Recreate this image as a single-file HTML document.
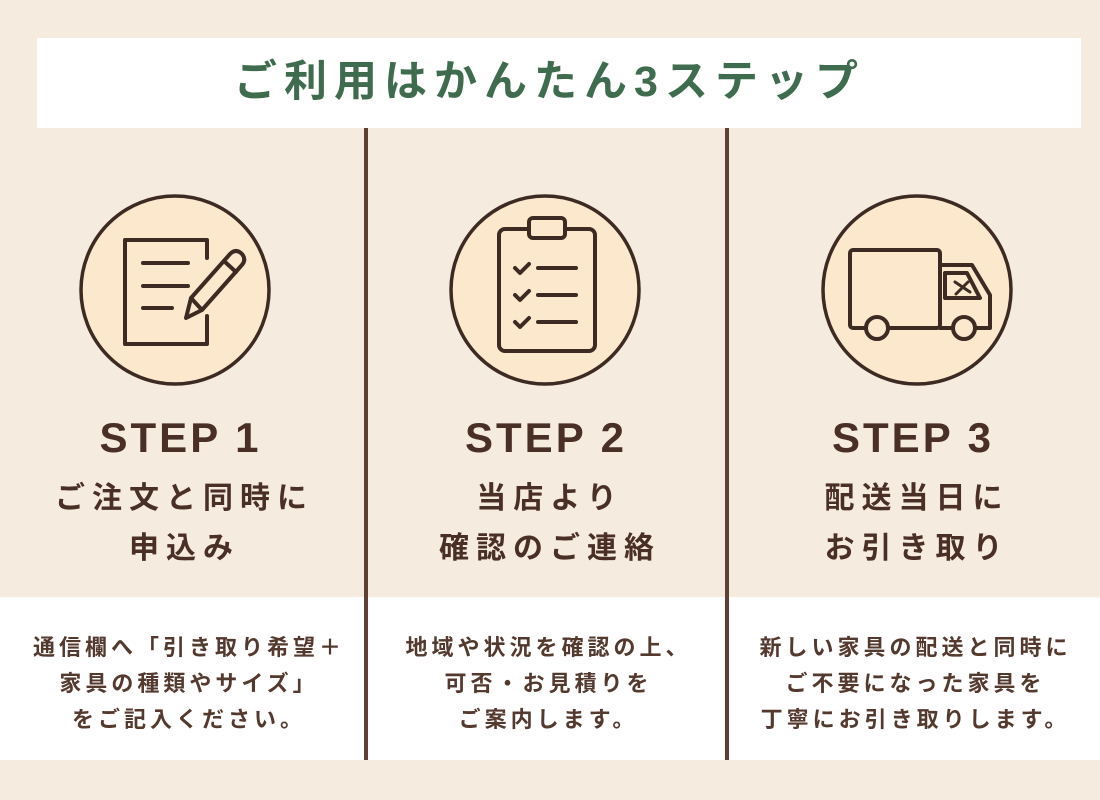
<!DOCTYPE html>
<html><head><meta charset="utf-8"><style>
body{margin:0;width:1100px;height:800px;background:#f5ebdf;position:relative;overflow:hidden;font-family:"Liberation Sans","Noto Sans CJK JP",sans-serif;color:#4a2f27}
.t{position:absolute;text-align:center;white-space:nowrap;font-weight:bold}
</style></head><body>
<div style="position:absolute;left:37px;top:38px;width:1044px;height:90px;background:#fff"></div>
<div class="t" style="left:24px;width:1044px;top:56px;font-size:43px;line-height:52px;letter-spacing:7px;padding-left:7px;box-sizing:border-box;color:#3f6b4e">ご利用はかんたん3ステップ</div>
<div style="position:absolute;left:0;top:597px;width:1100px;height:163px;background:#fff"></div>
<div style="position:absolute;left:364px;top:128px;width:4px;height:632px;background:#5e4034"></div>
<div style="position:absolute;left:725px;top:128px;width:4px;height:632px;background:#5e4034"></div>
<svg width="1100" height="800" style="position:absolute;left:0;top:0" fill="none" stroke="#3d2a22" stroke-width="4" stroke-linecap="round" stroke-linejoin="round">
<circle cx="175" cy="290" r="94" fill="#fbe8cd" stroke-width="3.5"/>
<circle cx="545" cy="290" r="94" fill="#fbe8cd" stroke-width="3.5"/>
<circle cx="917" cy="290" r="94" fill="#fbe8cd" stroke-width="3.5"/>
<path d="M207 258 V240 H125 V344 H207 V316"/>
<path d="M143 263 H188 M143 286 H188 M143 308 H172"/>
<path d="M186 318 L191 298 L230 254 Q236 248 242 254 Q247 260 241 266 L202 310 Z M191 298 L202 310 M224 261 L236 272"/>
<rect x="499" y="229" width="96" height="122" rx="6"/>
<rect x="529" y="218" width="36" height="20" rx="4" fill="#fbe8cd"/>
<path d="M515 268 l5 5 l9 -9 M538 268 H576 M515 295 l5 5 l9 -9 M538 295 H576 M515 322 l5 5 l9 -9 M538 322 H576"/>
<rect x="850" y="250" width="90" height="78" rx="3"/>
<path d="M940 265 H972 L990 295 V328 H940"/>
<path d="M945 273 H967 L980 298 H945 Z"/>
<path d="M955 282 l15 10 M968 282 l-12 12" stroke-width="3"/>
<circle cx="877" cy="328" r="11" fill="#fbe8cd"/>
<circle cx="964" cy="328" r="11" fill="#fbe8cd"/>
</svg>
<div class="t" style="left:-4px;width:366px;top:412px;font-size:42px;line-height:52px;letter-spacing:3px;padding-left:3px;box-sizing:border-box">STEP 1</div>
<div class="t" style="left:364px;width:361px;top:412px;font-size:42px;line-height:52px;letter-spacing:3px;padding-left:3px;box-sizing:border-box">STEP 2</div>
<div class="t" style="left:725px;width:373px;top:412px;font-size:42px;line-height:52px;letter-spacing:3px;padding-left:3px;box-sizing:border-box">STEP 3</div>
<div class="t" style="left:-2px;width:366px;top:474px;font-size:30px;line-height:50px;letter-spacing:7px;padding-left:7px;box-sizing:border-box">ご注文と同時に<br>申込み</div>
<div class="t" style="left:366px;width:361px;top:474px;font-size:30px;line-height:50px;letter-spacing:7px;padding-left:7px;box-sizing:border-box">当店より<br>確認のご連絡</div>
<div class="t" style="left:727px;width:373px;top:474px;font-size:30px;line-height:50px;letter-spacing:7px;padding-left:7px;box-sizing:border-box">配送当日に<br>お引き取り</div>
<div class="t" style="left:4px;width:366px;top:630px;font-size:22px;line-height:36px;letter-spacing:4px;padding-left:4px;box-sizing:border-box;color:#54392f">通信欄へ「引き取り希望＋<br>家具の種類やサイズ」<br>をご記入ください。</div>
<div class="t" style="left:366px;width:361px;top:630px;font-size:22px;line-height:36px;letter-spacing:4px;padding-left:4px;box-sizing:border-box;color:#54392f">地域や状況を確認の上、<br>可否・お見積りを<br>ご案内します。</div>
<div class="t" style="left:727px;width:373px;top:630px;font-size:22px;line-height:36px;letter-spacing:4px;padding-left:4px;box-sizing:border-box;color:#54392f">新しい家具の配送と同時に<br>ご不要になった家具を<br>丁寧にお引き取りします。</div>
</body></html>
